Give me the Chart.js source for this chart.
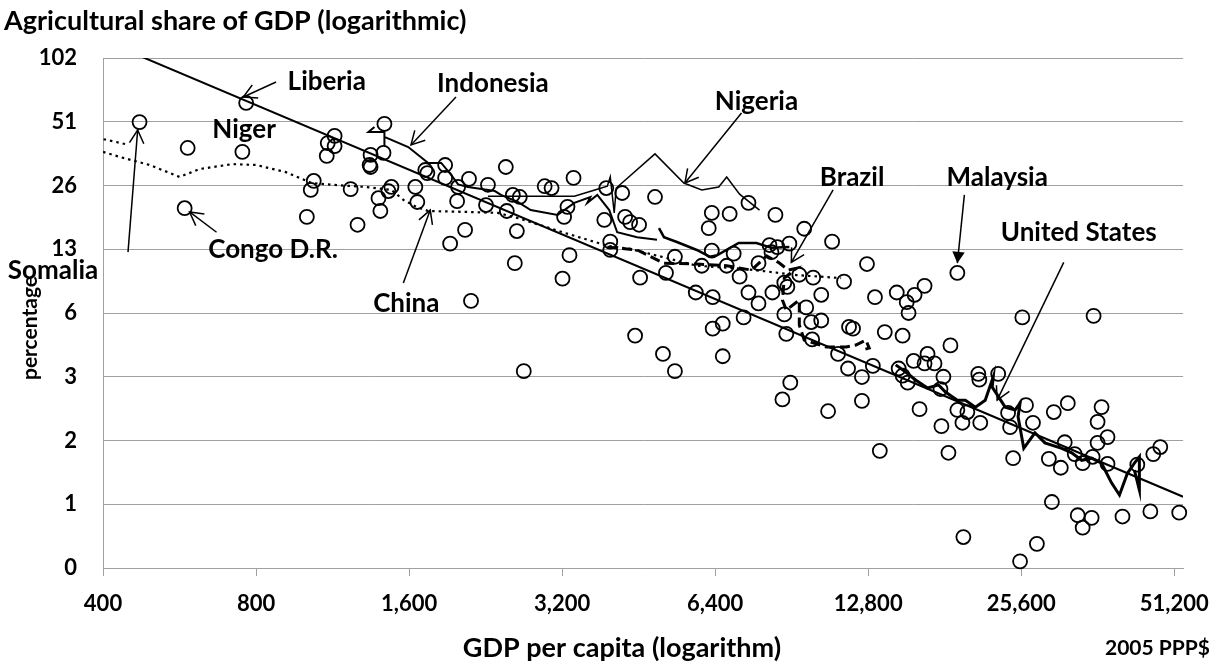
<!DOCTYPE html>
<html><head><meta charset="utf-8">
<script src="https://cdn.jsdelivr.net/npm/chart.js@4.4.1/dist/chart.umd.min.js"></script>
<style>html,body{margin:0;padding:0;background:#fff;}canvas{display:block;}</style>
</head><body>
<canvas id="c" width="1224" height="668"></canvas>
<script>
// ---------- axes ----------
const xTickValues = [400, 800, 1600, 3200, 6400, 12800, 25600, 51200];
const xTickLabels = ['400', '800', '1,600', '3,200', '6,400', '12,800', '25,600', '51,200'];
const yTickValues = [0.4, 0.8, 1.6, 3.2, 6.4, 12.8, 25.6, 51.2, 102.4];
const yTickLabels = ['0', '1', '2', '3', '6', '13', '26', '51', '102'];

// ---------- countries (GDP per capita, agricultural share %) ----------
const countryGdp = [472,765,587,752,579,1142,1107,1142,1102,1431,1425,1344,1338,1344,1039,1025,1228,1477,1457,1393,1405,1007,1267,
 1646,1661,1722,1738,1884,1884,2099,1998,1989,2480,2287,2267,2491,2560,2642,2062,1927,2607,2583,2118,2957,3051,3370,3279,3229,3309,3206,
 3909,4201,3874,3980,3980,4257,4355,4535,4874,4556,5122,5334,4454,5053,5334,2690,
 6304,6835,6217,7443,8410,9581,10870,6304,6960,8186,8486,8957,8260,6024,6744,7789,7150,8755,8877,8295,9978,11475,12730,10349,7443,5863,6330,7789,9668,
 13200,14570,15240,15795,16525,15370,8755,7281,6330,6624,9889,10349,11738,11950,8834,9933,13800,14960,18580,6624,11168,11685,12443,13074,14696,14960,15310,
 16749,15726,16525,17286,17997,17760,8995,8680,12443,10675,13493,16154,9370,25730,35533,21080,21175,23066,19170,20060,19615,21267,17837,18413,
 24124,26160,24346,27000,24679,31616,29670,36838,36180,36180,37847,31181,29015,30628,32622,35379,33818,37847,43315,46566,48064,
 29414,33068,35220,33818,40500,45950,52370,19700,27486,25467,19170];
const countryShare = [51.0,62.8,38.5,36.9,20.0,43.9,40.6,39.3,35.3,50.0,36.5,35.7,32.0,31.3,26.9,24.4,24.6,25.2,24.1,22.3,19.4,18.2,16.7,
 25.2,21.4,30.3,29.3,32.0,27.8,27.5,25.2,21.6,31.3,25.8,20.7,19.4,23.1,22.6,15.8,13.6,15.6,11.0,7.3,25.4,24.9,27.8,20.3,18.2,12.0,9.3,
 24.9,23.6,17.6,13.9,12.7,18.2,17.2,16.7,22.6,9.4,9.9,11.8,5.0,4.1,3.4,3.4,
 19.0,18.8,16.1,21.2,18.6,16.0,13.9,12.6,12.2,13.4,13.1,13.6,12.4,10.7,10.7,11.0,9.5,8.9,8.5,8.0,9.4,9.0,10.9,7.8,8.0,8.0,7.6,7.1,6.8,
 7.6,8.0,7.2,7.8,8.6,6.4,6.3,6.1,5.4,5.7,5.8,5.9,5.5,5.4,5.1,4.8,5.2,5.0,4.5,4.0,4.1,3.5,3.19,3.6,3.5,3.24,3.0,
 4.1,3.8,3.7,3.7,3.2,2.8,3.0,2.5,2.46,2.2,1.43,2.25,9.7,6.1,6.2,3.3,3.1,3.3,2.23,2.18,1.94,1.94,1.87,1.40,
 2.16,2.35,1.85,1.94,1.32,2.4,2.18,2.3,1.96,1.56,1.66,1.57,1.31,1.19,1.38,1.34,1.25,1.24,1.23,1.38,1.49,
 0.82,0.71,0.69,0.62,0.70,0.74,0.73,0.56,0.52,0.43,9.9];

// ---------- fitted line ----------
const fitGdp = [473, 53300];
const fitShare = [104.6, 0.868];

// ---------- country paths ----------
const chinaGdp = [442,400,388,388,400,432,494,566,619,718,800,916,1030,1127,1314,1477,1559,1653,1745,2090,2392,2654,3235,3927,4355,5310,5890,7054,7966,9243,11322];
const chinaShare = [40.2,42.4,41.5,37.7,36.9,34.9,32.0,28.1,30.6,32.3,32.0,29.6,26.3,25.8,25.2,24.4,21.9,20.3,19.4,19.2,19.0,17.8,15.3,13.3,12.85,11.4,10.7,10.4,10.1,9.67,9.36];

const nigeriaGdp = [2287,3382,3753,3927,3980,4052,4089,4874,5554,6024,6504,6744,7150,7825];
const nigeriaShare = [22.8,22.8,24.6,25.4,28.1,19.0,24.9,36.1,26.3,24.4,25.2,28.1,23.3,19.6];

const indonesiaGdp = [1368,1331,1431,1431,1431,1594,1745,1851,1936,1998,2090,2360,2426,2618,2776,3135,3382,3637,3588,3753,3962,4107,4494,4918];
const indonesiaShare = [48.4,45.8,45.8,39.3,43.4,38.9,32.7,32.7,28.7,25.9,25.2,24.1,23.1,21.4,19.6,18.6,21.2,22.6,21.2,23.1,19.6,15.4,14.6,14.2];

const otherGdp = [4963,5076,5382,5890,6245,6467,7120,7718,8260,8957];
const otherShare = [16.1,14.6,13.85,12.7,11.8,12.0,13.7,13.7,13.0,13.1];

const brazilGdp = [3927,4494,5076,5890,6744,7547,8076,8524,8917,9243,8755,8680,8834,9370,9370,9581,10580,11576,12110,12672,12860,12443];
const brazilShare = [13.1,12.7,11.0,10.9,10.7,10.2,11.9,11.1,10.2,10.4,9.36,7.37,6.61,7.37,5.62,4.77,4.42,4.42,4.52,4.77,4.37,4.28];

const usGdp = [14500,15170,15868,16749,17605,18165,19170,19880,20800,21750,22550,22450,23810,24900,25467,25240,25900,27240,28500,30764,32180,33670,35220,36838,38540,39950,41420,42750,43720,43720,42750];
const usShare = [3.64,3.37,3.09,2.83,2.93,2.71,2.48,2.48,2.30,2.48,3.19,2.86,2.30,2.23,2.40,2.07,1.47,1.74,1.56,1.47,1.40,1.29,1.32,1.25,1.01,0.885,1.12,1.25,1.34,0.934,1.16];

// ---------- annotations (anchored in data units) ----------
const labelText = ['Liberia','Niger','Indonesia','Nigeria','Brazil','Malaysia','United States','Congo D.R.','Somalia','China'];
const labelGdp = [1102,758,2339,7718,11900,22960,33220,864,319,1580];
const labelShare = [78.9,46.8,77.2,63.5,27.8,27.8,15.3,12.7,10.2,7.06];

const arrowTailGdp = [876,1979,7212,10920,19790,31040,669,448,1559];
const arrowTailShare = [78.9,67.0,56.3,24.4,23.1,11.1,15.4,12.4,8.87];
const arrowTipGdp = [755,1614,5581,9037,19170,22960,592,468,1761];
const arrowTipShare = [67.0,39.8,26.3,11.1,11.0,2.48,19.2,46.8,19.6];
const arrowFilled = [false,false,false,false,true,false,false,false,false];

// ---------- chart ----------
const FONT = 'Lato, "Liberation Sans", sans-serif';
Chart.defaults.font.family = FONT;
Chart.defaults.font.weight = 'bold';
Chart.defaults.color = '#000';
const GRID = '#a0a0a0';

function pts(xs, ys) { return xs.map((x, i) => ({ x: x, y: ys[i] })); }
function lineDs(xs, ys, width, dash) {
  return { data: pts(xs, ys), showLine: true, borderColor: '#000', backgroundColor: '#000',
    borderWidth: width, borderDash: dash || [], pointRadius: 0, pointHoverRadius: 0, tension: 0, fill: false, clip: 0 };
}

const annotate = {
  id: 'annotate',
  afterDatasetsDraw(chart) {
    const ctx = chart.ctx, X = chart.scales.x, Y = chart.scales.y;
    ctx.save();
    ctx.strokeStyle = '#000'; ctx.fillStyle = '#000'; ctx.lineWidth = 1.5;
    for (let i = 0; i < arrowTailGdp.length; i++) {
      const x1 = X.getPixelForValue(arrowTailGdp[i]), y1 = Y.getPixelForValue(arrowTailShare[i]);
      const x2 = X.getPixelForValue(arrowTipGdp[i]), y2 = Y.getPixelForValue(arrowTipShare[i]);
      const a = Math.atan2(y2 - y1, x2 - x1);
      ctx.beginPath(); ctx.moveTo(x1, y1); ctx.lineTo(x2, y2); ctx.stroke();
      if (arrowFilled[i]) {
        const L = 13, sp = 0.5;
        ctx.beginPath(); ctx.moveTo(x2, y2);
        ctx.lineTo(x2 - L * Math.cos(a - sp), y2 - L * Math.sin(a - sp));
        ctx.lineTo(x2 - L * Math.cos(a + sp), y2 - L * Math.sin(a + sp));
        ctx.closePath(); ctx.fill();
      } else {
        const L = 15, sp = 0.5;
        ctx.beginPath();
        ctx.moveTo(x2 - L * Math.cos(a - sp), y2 - L * Math.sin(a - sp));
        ctx.lineTo(x2, y2);
        ctx.lineTo(x2 - L * Math.cos(a + sp), y2 - L * Math.sin(a + sp));
        ctx.stroke();
      }
    }
    ctx.font = 'bold 26px ' + FONT; ctx.textAlign = 'center'; ctx.textBaseline = 'middle';
    for (let i = 0; i < labelText.length; i++) {
      ctx.fillText(labelText[i], X.getPixelForValue(labelGdp[i]), Y.getPixelForValue(labelShare[i]));
    }
    ctx.restore();
  },
  afterDraw(chart) {
    const ctx = chart.ctx;
    ctx.save();
    ctx.fillStyle = '#000';
    ctx.textBaseline = 'middle';
    ctx.font = 'bold 27px ' + FONT;
    ctx.textAlign = 'left';
    ctx.fillText('Agricultural share of GDP (logarithmic)', 4, 21);
    ctx.textAlign = 'center';
    ctx.fillText('GDP per capita (logarithm)', 622, 648);
    ctx.font = 'bold 21px ' + FONT;
    ctx.textAlign = 'right';
    ctx.fillText('2005 PPP$', 1210, 648);
    ctx.font = 'bold 21px ' + FONT;
    ctx.translate(30, 328);
    ctx.rotate(-Math.PI / 2);
    ctx.textAlign = 'center';
    ctx.fillText('percentage', 0, 0);
    ctx.restore();
  }
};

new Chart(document.getElementById('c'), {
  type: 'scatter',
  data: {
    datasets: [
      { data: pts(countryGdp, countryShare), pointStyle: 'circle', pointRadius: 7, pointHoverRadius: 7,
        pointBorderWidth: 1.8, borderColor: '#000', pointBorderColor: '#000', backgroundColor: 'rgba(0,0,0,0)',
        pointBackgroundColor: 'rgba(0,0,0,0)', showLine: false, clip: false },
      lineDs(fitGdp, fitShare, 2),
      lineDs(chinaGdp, chinaShare, 2.2, [2.5, 4]),
      lineDs(nigeriaGdp, nigeriaShare, 1.5),
      lineDs(indonesiaGdp, indonesiaShare, 2),
      lineDs(otherGdp, otherShare, 2.5),
      lineDs(brazilGdp, brazilShare, 3, [10, 5]),
      lineDs(usGdp, usShare, 3)
    ]
  },
  options: {
    responsive: false,
    animation: false,
    devicePixelRatio: 1,
    layout: { padding: { top: 58, right: 35, left: 0, bottom: 0 } },
    plugins: { legend: { display: false }, tooltip: { enabled: false }, title: { display: false } },
    events: [],
    scales: {
      x: {
        type: 'logarithmic', min: 400, max: 53300,
        afterBuildTicks: (s) => { s.ticks = xTickValues.map(v => ({ value: v })); },
        afterFit: (s) => { s.height = 100; },
        ticks: {
          callback: (v) => { const i = xTickValues.indexOf(v); return i >= 0 ? xTickLabels[i] : ''; },
          autoSkip: false, maxRotation: 0, minRotation: 0, padding: 15, color: '#000',
          font: { size: 22, weight: 'bold' }
        },
        grid: { display: true, drawOnChartArea: false, drawTicks: true, tickLength: 8, color: GRID },
        border: { display: true, color: GRID, width: 1 }
      },
      y: {
        type: 'logarithmic', min: 0.4, max: 102.4,
        afterBuildTicks: (s) => { s.ticks = yTickValues.map(v => ({ value: v })); },
        afterFit: (s) => { s.width = 103; },
        ticks: {
          callback: (v) => { const i = yTickValues.indexOf(v); return i >= 0 ? yTickLabels[i] : ''; },
          autoSkip: false, padding: 26, color: '#000', font: { size: 22, weight: 'bold' }
        },
        grid: { display: true, drawOnChartArea: true, drawTicks: false, tickLength: 0, color: GRID, lineWidth: 1 },
        border: { display: true, color: GRID, width: 1 }
      }
    }
  },
  plugins: [annotate]
});
</script>
</body></html>
